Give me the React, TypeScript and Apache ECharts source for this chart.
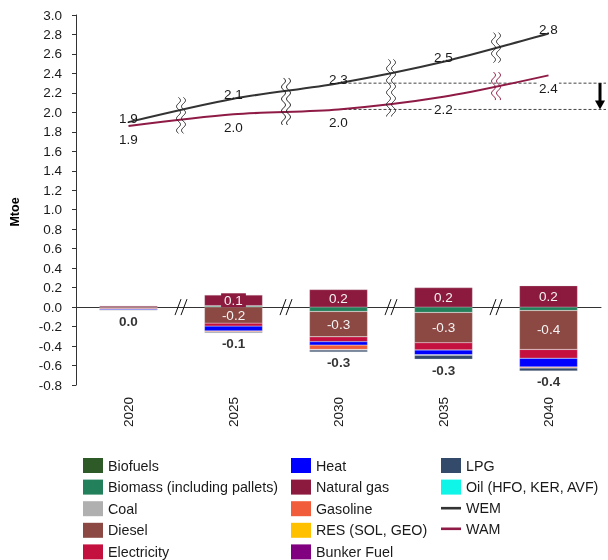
import React, { useEffect, useRef } from "react";
import * as echarts from "echarts";

const FONT = "'Liberation Sans', Arial, Helvetica, sans-serif";

const years = ["2020", "2025", "2030", "2035", "2040"];

const biofuels = [0, 0, 0, 0, 0];
const biomass = [0, 0.01, -0.045, -0.055, -0.035];
const coal = [0.002, 0.005, 0, 0, 0];
const diesel = [-0.01, -0.165, -0.26, -0.31, -0.4];
const electricity = [-0.008, -0.03, -0.05, -0.075, -0.09];
const heat = [-0.01, -0.05, -0.035, -0.05, -0.09];
const naturalGas = [0.012, 0.11, 0.18, 0.2, 0.22];
const gasoline = [-0.003, -0.01, -0.045, -0.005, -0.01];
const res = [0, 0, 0, 0, 0];
const bunkerFuel = [0, 0, -0.005, 0, 0];
const lpg = [-0.003, -0.01, -0.02, -0.04, -0.03];
const oil = [0, 0, 0, 0, 0];

const wem = [1.9, 2.14, 2.3, 2.52, 2.81];
const wam = [1.86, 1.98, 2.03, 2.16, 2.38];

const yMin = -0.8;
const yMax = 3.0;
const yStep = 0.2;

const barSeriesDefs = [
  { name: "Biofuels", data: biofuels, color: "#2E5A27" },
  { name: "Biomass (including pallets)", data: biomass, color: "#22805B" },
  { name: "Coal", data: coal, color: "#B0B0B0" },
  { name: "Diesel", data: diesel, color: "#8C4842", labelled: true },
  { name: "Electricity", data: electricity, color: "#C4103F" },
  { name: "Heat", data: heat, color: "#0000FF" },
  { name: "Natural gas", data: naturalGas, color: "#8C1A3F", labelled: true, boxed: true },
  { name: "Gasoline", data: gasoline, color: "#F15D3B" },
  { name: "RES (SOL, GEO)", data: res, color: "#FFC000" },
  { name: "Bunker Fuel", data: bunkerFuel, color: "#800080" },
  { name: "LPG", data: lpg, color: "#344A6A" },
  { name: "Oil (HFO, KER, AVF)", data: oil, color: "#0FF5E8" },
];

const WEM_COLOR = "#333333";
const WAM_COLOR = "#8E1A45";

const legendCols = [
  ["Biofuels", "Biomass (including pallets)", "Coal", "Diesel", "Electricity"],
  ["Heat", "Natural gas", "Gasoline", "RES (SOL, GEO)", "Bunker Fuel"],
  ["LPG", "Oil (HFO, KER, AVF)", "WEM", "WAM"],
];
const legendLefts = [83, 291, 441];

const FS = 13.5;

const fmt1 = (v: number) => {
  const s = (Math.round(v * 10 + 1e-9 * Math.sign(v)) / 10).toFixed(1);
  return s === "-0.0" ? "0.0" : s;
};

export default function App() {
  const ref = useRef<HTMLDivElement>(null);

  useEffect(() => {
    if (!ref.current) return;
    const chart = echarts.init(ref.current, null, { renderer: "svg" });

    const totals = years.map((_, i) =>
      barSeriesDefs.reduce((s, d) => s + d.data[i], 0)
    );
    const negSums = years.map((_, i) =>
      barSeriesDefs.reduce((s, d) => s + (d.data[i] < 0 ? d.data[i] : 0), 0)
    );

    const barSeries = barSeriesDefs.map((d) => ({
      name: d.name,
      type: "bar",
      stack: "total",
      barWidth: 58,
      xAxisIndex: 0,
      itemStyle: { color: d.color, borderColor: "rgba(220,220,220,0.7)", borderWidth: 0.4 },
      data: d.data.map((v) => {
        if (v === 0) return null;
        const show = !!d.labelled && Math.abs(v) >= 0.05;
        return {
          value: v,
          label: {
            show,
            position: "inside",
            formatter: () => fmt1(v),
            color: "#f4f4f4",
            fontSize: FS,
            fontFamily: FONT,
            backgroundColor: d.boxed ? d.color : "transparent",
            padding: d.boxed ? [0, 3] : 0,
          },
        };
      }),
    }));

    const legendStyle = {
      orient: "vertical",
      top: 458,
      padding: 0,
      itemWidth: 20,
      itemHeight: 15,
      itemGap: 6.6,
      textStyle: { fontSize: 14.3, color: "#1a1a1a", fontFamily: FONT },
      itemStyle: { borderWidth: 0 },
      selectedMode: false,
    };

    const lineIcon = "path://M0,0 L20,0 L20,2.6 L0,2.6 Z";

    const legends = legendCols.map((col, ci) => ({
      ...legendStyle,
      left: legendLefts[ci],
      data: col.map((n) =>
        n === "WEM"
          ? { name: n, icon: lineIcon, itemStyle: { color: WEM_COLOR } }
          : n === "WAM"
          ? { name: n, icon: lineIcon, itemStyle: { color: WAM_COLOR } }
          : { name: n, icon: "rect" }
      ),
    }));

    const option: any = {
      animation: false,
      textStyle: { fontFamily: FONT },
      grid: { left: 76, right: 7, top: 15, bottom: 175, containLabel: false },
      legend: legends,
      xAxis: [
        {
          type: "category",
          data: years,
          position: "bottom",
          axisLine: { show: false, onZero: false },
          axisTick: { show: false },
          axisLabel: {
            rotate: 90,
            fontSize: FS,
            color: "#1a1a1a",
            margin: 12,
            fontFamily: FONT,
          },
        },
        {
          type: "category",
          data: years,
          position: "top",
          axisLine: { show: true, onZero: true, lineStyle: { color: "#333", width: 1 } },
          axisTick: { show: false },
          axisLabel: { show: false },
        },
      ],
      yAxis: {
        type: "value",
        min: yMin,
        max: yMax,
        interval: yStep,
        axisLine: { show: true, lineStyle: { color: "#333", width: 1 } },
        axisTick: { show: true, length: 4, lineStyle: { color: "#333" } },
        splitLine: { show: false },
        axisLabel: {
          fontSize: FS,
          color: "#1a1a1a",
          margin: 14,
          fontFamily: FONT,
          formatter: (v: number) => fmt1(v),
        },
      },
      series: [
        ...barSeries,
        {
          name: "__total",
          type: "scatter",
          symbolSize: 0,
          xAxisIndex: 0,
          itemStyle: { color: "transparent" },
          data: negSums,
          label: {
            show: true,
            position: "bottom",
            distance: 4,
            fontWeight: "bold",
            fontSize: FS,
            color: "#000",
            fontFamily: FONT,
            formatter: (p: any) => fmt1(totals[p.dataIndex]),
          },
          z: 6,
        },
        {
          name: "WEM",
          type: "line",
          data: wem,
          smooth: 0.3,
          symbol: "circle",
          symbolSize: 0,
          xAxisIndex: 0,
          lineStyle: { color: WEM_COLOR, width: 2 },
          itemStyle: { color: WEM_COLOR },
          label: {
            show: true,
            position: "top",
            distance: 5,
            offset: [0, 8],
            fontSize: FS,
            color: "#1a1a1a",
            fontFamily: FONT,
            formatter: (p: any) => fmt1(p.value),
          },
          z: 5,
        },
        {
          name: "WAM",
          type: "line",
          data: wam,
          smooth: 0.3,
          symbol: "circle",
          symbolSize: 0,
          xAxisIndex: 0,
          lineStyle: { color: WAM_COLOR, width: 2 },
          itemStyle: { color: WAM_COLOR },
          label: {
            show: true,
            position: "bottom",
            distance: 6,
            fontSize: FS,
            color: "#1a1a1a",
            fontFamily: FONT,
            backgroundColor: "#ffffff",
            padding: [0, 1],
            formatter: (p: any) => fmt1(p.value),
          },
          z: 5,
        },
      ],
    };

    chart.setOption(option);

    const toPx = (i: number, v: number) =>
      chart.convertToPixel({ gridIndex: 0 }, [i, v]) as number[];

    const elements: any[] = [];

    const wave = (x0: number, y0: number, y1: number) => {
      const pts: number[][] = [];
      for (let y = y0; y <= y1; y += 1) {
        pts.push([x0 + 2 * Math.sin(((y - y0) / 12) * 2 * Math.PI), y]);
      }
      return pts;
    };
    const addBreak = (xm: number, y0: number, y1: number, color: string) => {
      [-2.5, 2.5].forEach((dx) => {
        elements.push({
          type: "polyline",
          z: 20,
          shape: { points: wave(xm + dx, y0, y1) },
          style: { stroke: color, lineWidth: 1, fill: null },
          silent: true,
        });
      });
    };

    const zeroY = toPx(0, 0)[1];
    for (let k = 0; k < years.length - 1; k++) {
      const a = toPx(k, wem[k]);
      const b = toPx(k + 1, wem[k + 1]);
      const c = toPx(k, wam[k]);
      const d = toPx(k + 1, wam[k + 1]);
      const xm = (a[0] + b[0]) / 2;
      const yWem = (a[1] + b[1]) / 2;
      const yWam = (c[1] + d[1]) / 2;
      if (yWam - yWem < 35) {
        addBreak(xm, yWem - 13, yWam + 14, "#222");
      } else {
        addBreak(xm, yWem - 15, yWem + 15, "#222");
        addBreak(xm, yWam - 14, yWam + 14, WAM_COLOR);
      }
      [-3, 3].forEach((o) => {
        elements.push({
          type: "line",
          z: 20,
          shape: { x1: xm + o - 3, y1: zeroY + 8, x2: xm + o + 3, y2: zeroY - 8 },
          style: { stroke: "#111", lineWidth: 1 },
          silent: true,
        });
      });
    }

    const pWem = toPx(2, wem[2]);
    const pWam = toPx(2, wam[2]);
    [pWem, pWam].forEach((p) => {
      elements.push({
        type: "line",
        z: 1,
        shape: { x1: p[0], y1: p[1], x2: 606, y2: p[1] },
        style: { stroke: "#444", lineWidth: 1, lineDash: [3, 2] },
        silent: true,
      });
    });
    const ax = 600;
    elements.push({
      type: "line",
      z: 20,
      shape: { x1: ax, y1: pWem[1], x2: ax, y2: pWam[1] - 7 },
      style: { stroke: "#000", lineWidth: 3 },
      silent: true,
    });
    elements.push({
      type: "polygon",
      z: 20,
      shape: {
        points: [
          [ax - 5, pWam[1] - 9],
          [ax + 5, pWam[1] - 9],
          [ax, pWam[1]],
        ],
      },
      style: { fill: "#000" },
      silent: true,
    });

    elements.push({
      type: "text",
      x: 15,
      y: 212,
      rotation: Math.PI / 2,
      style: {
        text: "Mtoe",
        font: `bold 12.5px ${FONT}`,
        fill: "#000",
        align: "center",
        verticalAlign: "middle",
      },
    });

    chart.setOption({ graphic: { elements } });

    return () => chart.dispose();
  }, []);

  return (
    <div
      ref={ref}
      style={{ position: "fixed", left: 0, top: 0, width: 608, height: 560 }}
    />
  );
}
